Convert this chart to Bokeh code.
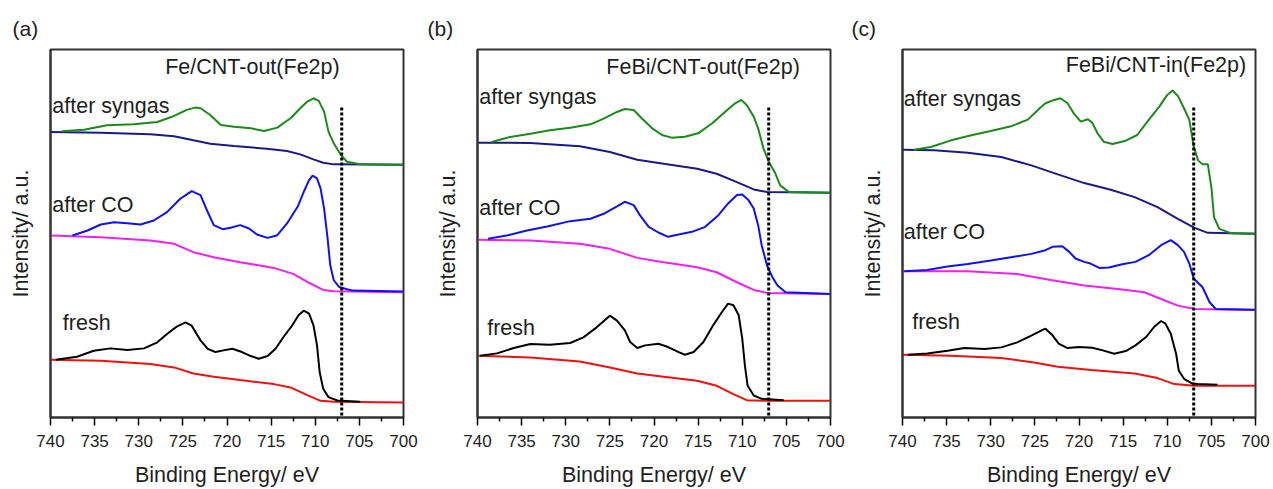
from bokeh.plotting import figure
from bokeh.layouts import row
from bokeh.models import Range1d, FixedTicker, Label
from bokeh.embed import file_html
from bokeh.resources import INLINE

# ---------------- data (binding energy in eV, intensity in a.u.) ----------------
tick_values = [740, 735, 730, 725, 720, 715, 710, 705, 700]
minor_values = [737.5, 732.5, 727.5, 722.5, 717.5, 712.5, 707.5, 702.5]
marker_energy = 707.0
marker_top = 928
marker_bottom = 5

# Panel (a) Fe/CNT-out
a_syn_x = [738.7, 736.2, 733.6, 730.6, 727.9, 726.0, 724.5, 723.6, 723.0, 721.9, 720.7, 719.2, 717.3, 715.8, 714.3, 712.8, 711.7, 710.9, 710.2, 709.6, 709.0, 708.5, 707.9, 707.1, 706.4, 705.8, 704.9, 700.0]
a_syn_y = [857, 862, 875, 878, 885, 903, 922, 928, 926, 906, 876, 871, 866, 858, 868, 896, 926, 946, 956, 948, 916, 856, 821, 786, 766, 763, 758, 757]
a_synbg_x = [740.0, 734.3, 728.7, 726.0, 723.8, 721.9, 719.2, 715.5, 713.2, 711.7, 710.2, 709.1, 707.9, 700.0]
a_synbg_y = [855, 853, 848, 842, 830, 820, 813, 805, 798, 788, 773, 763, 758, 757]
a_co_x = [737.5, 735.8, 734.3, 732.8, 731.3, 729.8, 728.3, 726.8, 725.3, 724.0, 723.0, 722.2, 721.5, 720.5, 719.6, 718.5, 717.5, 716.6, 715.4, 714.3, 713.2, 712.0, 711.3, 710.7, 710.3, 709.8, 709.4, 709.0, 708.6, 708.3, 707.9, 707.3, 706.4, 705.7, 700.0]
a_co_y = [545, 560, 578, 585, 582, 578, 590, 615, 655, 678, 666, 616, 576, 564, 568, 576, 566, 548, 538, 546, 581, 631, 676, 711, 724, 716, 686, 626, 536, 456, 411, 391, 384, 380, 377]
a_cobg_x = [740.0, 734.3, 728.7, 726.0, 723.8, 721.5, 718.5, 714.7, 712.5, 710.6, 709.1, 707.9, 700.0]
a_cobg_y = [545, 540, 530, 520, 495, 480, 465, 448, 430, 402, 382, 378, 375]
a_fr_x = [739.4, 737.0, 735.1, 733.2, 731.3, 729.4, 727.9, 726.8, 725.7, 724.7, 724.0, 723.0, 722.2, 721.3, 720.4, 719.4, 718.3, 717.3, 716.4, 715.4, 714.5, 713.6, 712.6, 711.9, 711.3, 710.7, 710.2, 709.8, 709.5, 709.1, 708.5, 707.5, 704.9]
a_fr_y = [173, 182, 200, 207, 202, 207, 225, 250, 272, 285, 275, 231, 206, 196, 201, 206, 196, 184, 176, 184, 206, 241, 276, 306, 320, 311, 276, 216, 136, 86, 61, 51, 47]
a_frbg_x = [740.0, 734.3, 728.7, 726.0, 723.8, 721.5, 718.5, 714.7, 712.8, 710.9, 709.4, 707.9, 700.0]
a_frbg_y = [173, 170, 160, 150, 132, 122, 112, 100, 90, 67, 50, 47, 45]

# Panel (b) FeBi/CNT-out
b_syn_x = [738.4, 736.3, 734.0, 731.8, 729.5, 727.2, 725.7, 724.2, 723.3, 722.3, 721.4, 720.2, 719.1, 718.0, 716.5, 715.0, 713.4, 711.9, 710.8, 710.1, 709.5, 708.7, 708.2, 707.6, 707.0, 706.3, 705.7, 704.7, 700.0]
b_syn_y = [825, 840, 850, 860, 868, 878, 895, 915, 924, 921, 896, 866, 846, 838, 841, 851, 881, 916, 941, 951, 936, 901, 866, 806, 766, 734, 695, 675, 673]
b_synbg_x = [740.0, 734.0, 728.4, 725.0, 721.9, 718.9, 715.1, 712.9, 710.6, 708.7, 707.2, 700.0]
b_synbg_y = [823, 822, 812, 795, 772, 760, 745, 730, 705, 683, 675, 673]
b_co_x = [738.8, 736.7, 734.4, 732.1, 729.5, 727.2, 725.7, 724.2, 723.3, 722.3, 721.6, 720.6, 719.5, 718.4, 717.2, 715.7, 714.2, 712.7, 711.6, 710.6, 710.0, 709.3, 708.7, 708.2, 707.8, 707.2, 706.6, 706.0, 705.1, 700.0]
b_co_y = [535, 545, 560, 572, 588, 595, 610, 632, 646, 636, 606, 571, 554, 541, 548, 556, 571, 606, 641, 666, 668, 651, 626, 576, 516, 456, 421, 395, 375, 370]
b_cobg_x = [740.0, 734.0, 728.4, 725.0, 721.9, 718.9, 715.1, 712.9, 710.6, 708.7, 707.2, 700.0]
b_cobg_y = [532, 530, 520, 505, 478, 465, 450, 435, 405, 382, 373, 370]
b_fr_x = [739.7, 737.8, 735.9, 734.0, 731.8, 729.5, 728.0, 726.5, 725.0, 724.2, 723.3, 722.7, 721.9, 721.0, 719.5, 718.4, 717.2, 716.5, 715.5, 714.4, 713.3, 712.3, 711.6, 711.0, 710.4, 710.0, 709.7, 709.4, 708.7, 707.8, 705.3]
b_fr_y = [185, 192, 208, 220, 218, 223, 240, 270, 305, 290, 261, 226, 208, 216, 221, 211, 196, 188, 196, 226, 276, 316, 341, 336, 306, 236, 156, 96, 66, 56, 52]
b_frbg_x = [740.0, 734.0, 728.4, 725.0, 721.9, 718.9, 715.1, 712.9, 711.0, 709.5, 707.6, 700.0]
b_frbg_y = [185, 180, 168, 150, 132, 122, 110, 95, 70, 52, 50, 50]

# Panel (c) FeBi/CNT-in
c_syn_x = [738.7, 736.8, 734.5, 732.2, 730.0, 727.7, 725.8, 724.3, 723.8, 722.8, 722.1, 721.3, 720.6, 719.8, 719.0, 718.5, 717.9, 717.2, 716.2, 714.7, 713.4, 712.1, 710.9, 710.0, 709.4, 708.8, 708.1, 707.5, 707.0, 706.5, 706.0, 705.4, 705.0, 704.7, 704.1, 702.8, 700.0]
c_syn_y = [802, 810, 830, 845, 858, 872, 892, 930, 941, 951, 956, 941, 911, 886, 893, 883, 851, 826, 819, 829, 846, 891, 931, 966, 979, 963, 926, 891, 811, 770, 758, 758, 690, 600, 565, 552, 550]
c_synbg_x = [740.0, 736.4, 732.6, 728.8, 725.4, 722.4, 719.4, 716.4, 713.7, 711.1, 708.8, 706.9, 705.4, 700.0]
c_synbg_y = [802, 800, 793, 780, 755, 728, 702, 682, 660, 630, 595, 568, 553, 550]
c_co_x = [739.8, 737.2, 734.9, 732.6, 730.0, 727.7, 725.4, 723.8, 723.0, 721.9, 721.1, 720.4, 719.4, 718.7, 717.7, 716.6, 715.1, 713.6, 712.1, 710.7, 709.6, 708.8, 708.1, 707.5, 707.0, 706.0, 705.2, 704.5, 700.0]
c_co_y = [438, 442, 452, 460, 470, 480, 490, 501, 511, 513, 496, 476, 466, 461, 448, 449, 459, 466, 486, 516, 531, 516, 496, 461, 416, 390, 345, 325, 323]
c_cobg_x = [740.0, 732.6, 727.0, 723.2, 719.4, 715.6, 712.6, 710.7, 708.8, 706.9, 700.0]
c_cobg_y = [438, 438, 430, 412, 395, 385, 375, 355, 335, 325, 322]
c_fr_x = [739.4, 737.2, 734.9, 733.0, 730.7, 728.8, 727.0, 725.4, 724.3, 723.8, 723.0, 722.3, 721.3, 720.0, 718.5, 717.3, 716.0, 714.7, 713.6, 712.4, 711.5, 710.7, 710.2, 709.6, 709.0, 708.7, 708.1, 707.1, 706.5, 704.3]
c_fr_y = [188, 192, 200, 208, 205, 210, 225, 245, 260, 266, 246, 221, 208, 211, 209, 201, 191, 199, 216, 241, 271, 289, 281, 251, 191, 141, 116, 101, 100, 98]
c_frbg_x = [740.0, 734.5, 728.8, 725.1, 722.4, 718.6, 713.7, 711.1, 709.2, 706.9, 700.0]
c_frbg_y = [188, 185, 178, 165, 152, 142, 132, 118, 100, 95, 95]

panel_tags = ["(a)", "(b)", "(c)"]
panel_titles = ["Fe/CNT-out(Fe2p)", "FeBi/CNT-out(Fe2p)", "FeBi/CNT-in(Fe2p)"]
curve_names = ["after syngas", "after CO", "fresh"]
x_label = "Binding Energy/ eV"
y_label = "Intensity/ a.u."

FONT = "Liberation Sans"
TXT = "#1e1e1e"
COL_SYN = "#1b8a1b"
COL_SYNBG = "#1a1a86"
COL_CO = "#1010f0"
COL_COBG = "#f020f0"
COL_FR = "#000000"
COL_FRBG = "#f01010"


def panel(width, border_right, curves, tag, tag_offset, title, title_x, title_y, names_pos):
    p = figure(width=width, height=489, output_backend="svg", toolbar_location=None,
               x_range=Range1d(740, 700), y_range=Range1d(0, 1102),
               min_border_left=50, min_border_right=border_right,
               min_border_top=49, min_border_bottom=72)
    p.grid.visible = False
    p.outline_line_color = "#333333"
    p.outline_line_width = 2

    p.title.text = tag
    p.title.align = "left"
    p.title.offset = tag_offset
    p.title.text_font = FONT
    p.title.text_font_size = "21px"
    p.title.text_font_style = "normal"
    p.title.text_color = TXT
    p.title.standoff = 20

    xa = p.xaxis[0]
    xa.ticker = FixedTicker(ticks=tick_values, minor_ticks=minor_values)
    xa.axis_label = x_label
    xa.axis_label_text_font = FONT
    xa.axis_label_text_font_size = "21.5px"
    xa.axis_label_text_font_style = "normal"
    xa.axis_label_text_color = TXT
    xa.axis_label_standoff = 13
    xa.major_label_text_font = FONT
    xa.major_label_text_font_size = "17px"
    xa.major_label_text_color = TXT
    xa.major_label_standoff = 9
    xa.major_tick_out = 8
    xa.major_tick_in = 0
    xa.minor_tick_out = 4
    xa.minor_tick_in = 0
    xa.axis_line_width = 2
    xa.axis_line_color = "#333333"
    xa.major_tick_line_width = 1.5
    xa.minor_tick_line_width = 1.5

    ya = p.yaxis[0]
    ya.ticker = FixedTicker(ticks=[])
    ya.major_tick_out = 0
    ya.minor_tick_out = 0
    ya.major_label_text_font_size = "0px"
    ya.axis_label = y_label
    ya.axis_label_text_font = FONT
    ya.axis_label_text_font_size = "21.5px"
    ya.axis_label_text_font_style = "normal"
    ya.axis_label_text_color = TXT
    ya.axis_label_standoff = 18
    ya.axis_line_width = 2
    ya.axis_line_color = "#333333"

    for (xs, ys, col) in curves:
        p.line(xs, ys, line_color=col, line_width=2)

    p.line([marker_energy, marker_energy], [marker_top, marker_bottom], line_color="black",
           line_width=3, line_dash="3 2")

    p.add_layout(Label(x=title_x, y=title_y, text=title, text_font=FONT, text_font_size="21.5px",
                       text_color=TXT, text_baseline="middle", text_align="left"))
    for name, (nx, ny) in zip(curve_names, names_pos):
        p.add_layout(Label(x=nx, y=ny, text=name, text_font=FONT, text_font_size="21.5px",
                           text_color=TXT, text_baseline="middle", text_align="left"))
    return p


pa = panel(427, 24,
           [(a_synbg_x, a_synbg_y, COL_SYNBG), (a_syn_x, a_syn_y, COL_SYN),
            (a_cobg_x, a_cobg_y, COL_COBG), (a_co_x, a_co_y, COL_CO),
            (a_frbg_x, a_frbg_y, COL_FRBG), (a_fr_x, a_fr_y, COL_FR)],
           panel_tags[0], -38, panel_titles[0], 727.0, 1050,
           [(739.8, 933), (739.8, 636), (738.6, 282)])
pb = panel(425, 22,
           [(b_synbg_x, b_synbg_y, COL_SYNBG), (b_syn_x, b_syn_y, COL_SYN),
            (b_cobg_x, b_cobg_y, COL_COBG), (b_co_x, b_co_y, COL_CO),
            (b_frbg_x, b_frbg_y, COL_FRBG), (b_fr_x, b_fr_y, COL_FR)],
           panel_tags[1], -50, panel_titles[1], 725.4, 1050,
           [(739.8, 960), (739.8, 627), (738.9, 267)])
pc = panel(421, 18,
           [(c_synbg_x, c_synbg_y, COL_SYNBG), (c_syn_x, c_syn_y, COL_SYN),
            (c_cobg_x, c_cobg_y, COL_COBG), (c_co_x, c_co_y, COL_CO),
            (c_frbg_x, c_frbg_y, COL_FRBG), (c_fr_x, c_fr_y, COL_FR)],
           panel_tags[2], -51, panel_titles[2], 721.5, 1056,
           [(739.85, 954), (739.85, 555), (738.9, 285)])

layout = row(pa, pb, pc)
open("out.html", "w").write(file_html(layout, INLINE))
